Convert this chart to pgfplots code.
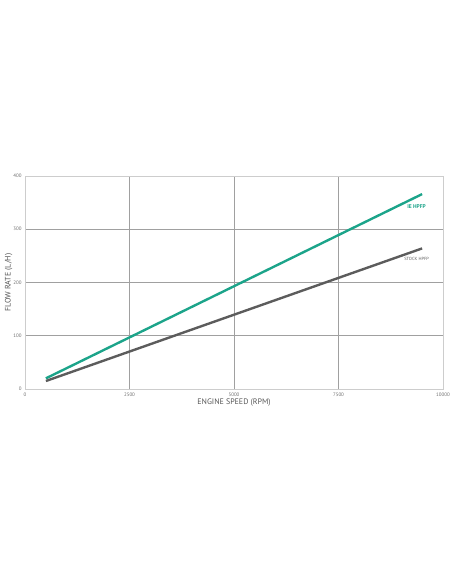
\documentclass[border=0pt]{standalone}
\usepackage{fontspec}
\setmainfont{PT Sans}
\usepackage{pgfplots}
\pgfplotsset{compat=1.18}
\definecolor{iegreen}{RGB}{28,164,138}
\definecolor{stockgray}{RGB}{92,92,92}
\definecolor{gridgray}{RGB}{160,160,160}
\definecolor{framegray}{RGB}{205,205,205}
\definecolor{ticktext}{RGB}{110,110,110}
\definecolor{labeltext}{RGB}{85,85,85}
\begin{document}
\begin{tikzpicture}[x=1bp,y=1bp]
\path[use as bounding box] (0,0) rectangle (452,584);
\begin{axis}[
  at={(25bp,195bp)}, anchor=south west,
  scale only axis, width=418bp, height=213bp,
  xmin=0, xmax=10000, ymin=0, ymax=400,
  xtick={0,2500,5000,7500,10000},
  ytick={0,100,200,300,400},
  scaled x ticks=false,
  xticklabel style={/pgf/number format/1000 sep={}},
  grid=major,
  major grid style={gridgray, line width=0.5pt},
  axis line style={framegray, line width=0.8pt},
  tick style={draw=none},
  ticklabel style={font=\fontsize{5}{6}\selectfont, text=ticktext},
  /pgf/number format/assume math mode=true,
  xlabel={ENGINE SPEED (RPM)},
  ylabel={FLOW RATE (L/H)},
  label style={font=\fontsize{8}{9}\selectfont, text=labeltext},
  xlabel style={yshift=4pt},
  ylabel style={yshift=-6pt},
  clip=false,
]
\addplot[iegreen, line width=2.4pt] coordinates {(500,20) (9500,366)};
\addplot[stockgray, line width=2.4pt] coordinates {(500,15) (9500,264)};
\node[font=\fontsize{5.5}{6}\selectfont\bfseries, text=iegreen, anchor=west, inner sep=0pt] at (axis cs:9140,342) {IE HPFP};
\node[font=\fontsize{4.5}{5}\selectfont, text=stockgray, anchor=west, inner sep=0pt] at (axis cs:9070,244) {STOCK HPFP};
\end{axis}
\end{tikzpicture}
\end{document}
